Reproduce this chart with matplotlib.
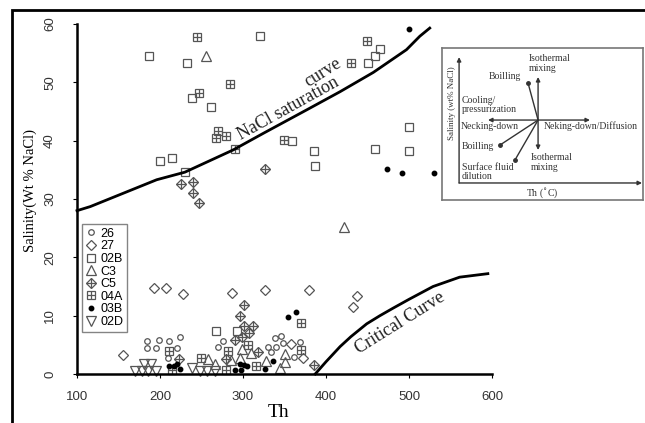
import matplotlib
matplotlib.use('Agg')
import matplotlib.pyplot as plt
from matplotlib.patches import Rectangle

# ---- data ----
s26_th = [184, 199, 211, 224, 184, 195, 221, 210, 276, 270, 330, 334, 338, 340, 346, 348, 362, 369]
s26_sal = [5.7, 5.9, 5.7, 6.4, 4.4, 4.4, 4.4, 2.8, 5.7, 4.6, 4.7, 3.7, 6.1, 4.6, 6.5, 5.4, 3.0, 5.5]

s27_th = [155, 193, 207, 228, 287, 327, 380, 437, 433, 358, 372]
s27_sal = [3.3, 14.8, 14.8, 13.7, 13.9, 14.4, 14.4, 13.4, 11.5, 5.2, 2.7]

s02b_th = [187, 232, 320, 238, 261, 200, 215, 230, 359, 385, 387, 450, 459, 465, 500, 500, 459, 267, 293]
s02b_sal = [54.5, 53.3, 58.0, 47.4, 45.7, 36.5, 37.0, 34.6, 40.0, 38.2, 35.7, 53.4, 54.5, 55.8, 42.4, 38.2, 38.5, 7.4, 7.4]

sc3_th = [256, 422, 258, 266, 285, 296, 299, 310, 328, 345, 351, 351]
sc3_sal = [54.6, 25.2, 2.5, 1.8, 2.4, 2.8, 4.3, 3.6, 2.3, 1.0, 2.1, 3.5]

sc5_th = [225, 240, 240, 247, 326, 301, 296, 301, 312, 307, 299, 290, 318, 279, 223, 385]
sc5_sal = [32.6, 32.9, 31.1, 29.4, 35.2, 11.8, 10.0, 8.3, 8.2, 7.0, 6.4, 5.8, 3.7, 2.6, 2.6, 1.5]

s04a_th = [244, 284, 247, 270, 268, 280, 290, 349, 430, 449, 211, 215, 249, 282, 280, 306, 316, 370, 370]
s04a_sal = [57.8, 49.7, 48.1, 41.6, 40.5, 40.8, 38.6, 40.2, 53.3, 57.1, 4.0, 0.7, 2.8, 4.0, 0.7, 4.9, 1.4, 8.8, 4.1]

s03b_th = [500, 473, 491, 530, 211, 217, 220, 224, 290, 297, 296, 301, 305, 327, 336, 354, 364]
s03b_sal = [59.2, 35.2, 34.4, 34.5, 1.4, 1.3, 1.7, 0.9, 0.7, 0.7, 1.7, 1.5, 1.4, 0.8, 2.2, 9.7, 10.7]

s02d_th = [170, 178, 186, 195, 181, 189, 238, 248, 257, 266]
s02d_sal = [0.5, 0.5, 0.5, 0.5, 1.7, 1.7, 1.0, 0.6, 0.6, 0.6]

nacl_th = [100, 116, 156, 196, 230, 288, 325, 377, 417, 457, 497, 513, 525]
nacl_sal = [28.0, 28.7, 31.0, 33.3, 34.6, 38.4, 41.3, 45.3, 48.4, 51.7, 55.6, 57.9, 59.3]

crit_th = [387, 400, 417, 430, 449, 465, 481, 500, 529, 561, 595]
crit_sal = [0, 2.1, 4.7, 6.4, 8.6, 10.0, 11.3, 12.8, 15.0, 16.6, 17.2]

x_ticks = [100, 200, 300, 400, 500, 600]
y_ticks = [0, 10, 20, 30, 40, 50, 60]

# inset schematic: arrow end points (axes fraction), centre of the star
inset_center = (0.478, 0.526)
inset_arrows = [(0.478, 0.809), (0.478, 0.329), (0.229, 0.526), (0.736, 0.526)]
inset_dots = [(0.428, 0.77), (0.289, 0.362), (0.363, 0.263)]
inset_labels = [
    ('Isothermal\nmixing', 0.43, 0.96),
    ('Boilling', 0.23, 0.81),
    ('Cooling/\npressurization', 0.10, 0.625),
    ('Necking-down', 0.095, 0.485),
    ('Neking-down/Diffusion', 0.505, 0.485),
    ('Boilling', 0.10, 0.35),
    ('Isothermal\nmixing', 0.44, 0.245),
    ('Surface fluid\ndilution', 0.10, 0.185),
]

W, H = 645, 423
GRAY = '#555555'
SERIF = ['Liberation Serif', 'DejaVu Serif']
SANS = ['Liberation Sans', 'DejaVu Sans']

fig = plt.figure(figsize=(W / 100, H / 100), dpi=100)
fig.patches.append(Rectangle((12 / W, -0.1), 1.2, 1 - 10 / H + 0.1,
                             transform=fig.transFigure, fill=False,
                             lw=2, ec='black', zorder=0))

ax = fig.add_axes([77 / W, 1 - 374 / H, 415 / W, 350 / H])
ax.set_xlim(100, 600)
ax.set_ylim(0, 60)
ax.patch.set_alpha(0)
for s in ['top', 'right']:
    ax.spines[s].set_visible(False)
for s in ['left', 'bottom']:
    ax.spines[s].set_linewidth(1.8)

ax.set_xticks(x_ticks)
ax.set_yticks(y_ticks)
ax.tick_params(direction='out', length=3, width=0.8, colors='black', labelcolor='#333333',
               labelsize=9.5)
ax.tick_params(axis='x', pad=9)
ax.tick_params(axis='y', pad=12)
for lab in ax.get_xticklabels() + ax.get_yticklabels():
    lab.set_fontfamily(SANS)
plt.setp(ax.get_yticklabels(), rotation=90, va='center')

kw = dict(linestyle='none', clip_on=False, mfc='none', mec=GRAY, mew=0.9)
h26, = ax.plot(s26_th, s26_sal, 'o', ms=4, **kw)
h27, = ax.plot(s27_th, s27_sal, 'D', ms=5.5, **kw)
h02b, = ax.plot(s02b_th, s02b_sal, 's', ms=5.5, **kw)
hc3, = ax.plot(sc3_th, sc3_sal, '^', ms=6.5, **kw)
hc5a, = ax.plot(sc5_th, sc5_sal, 'D', ms=5.5, **kw)
hc5b, = ax.plot(sc5_th, sc5_sal, '+', ms=7, **kw)
h04aa, = ax.plot(s04a_th, s04a_sal, 's', ms=5.5, **kw)
h04ab, = ax.plot(s04a_th, s04a_sal, '+', ms=5.5, **kw)
h03b, = ax.plot(s03b_th, s03b_sal, 'o', ms=3.2, linestyle='none', clip_on=False,
                mfc='black', mec='black')
h02d, = ax.plot(s02d_th, s02d_sal, 'v', ms=6.5, **kw)

ax.plot(nacl_th, nacl_sal, color='black', lw=2, clip_on=False)
ax.plot(crit_th, crit_sal, color='black', lw=2, clip_on=False)

ax.text(355, 45.5, 'NaCl saturation', rotation=29, rotation_mode='anchor',
        ha='center', va='center', fontsize=13, family=SERIF, color='#222222')
ax.text(396, 51.6, 'curve', rotation=32, rotation_mode='anchor',
        ha='center', va='center', fontsize=13, family=SERIF, color='#222222')
ax.text(489, 8.7, 'Critical Curve', rotation=32, rotation_mode='anchor',
        ha='center', va='center', fontsize=13, family=SERIF, color='#222222')

leg = ax.legend([h26, h27, h02b, hc3, (hc5a, hc5b), (h04aa, h04ab), h03b, h02d],
                ['26', '27', '02B', 'C3', 'C5', '04A', '03B', '02D'],
                loc='upper left', bbox_to_anchor=(0.012, 0.4286), fancybox=False,
                frameon=True, edgecolor='#666666', borderpad=0.3, labelspacing=0.05,
                handlelength=0.9, handletextpad=0.3, borderaxespad=0,
                prop={'family': SANS, 'size': 9})
leg.get_frame().set_linewidth(1.0)

fig.text(278 / W, 1 - 412 / H, 'Th', ha='center', va='center', fontsize=14,
         family=SERIF)
fig.text(30 / W, 1 - 190 / H, 'Salinity(Wt % NaCl)', rotation=90, ha='center',
         va='center', fontsize=10.5, family=SERIF)

# inset schematic
ins = fig.add_axes([442 / W, 1 - 200 / H, 201 / W, 152 / H])
ins.set_xlim(0, 1)
ins.set_ylim(0, 1)
ins.set_xticks([])
ins.set_yticks([])
for s in ins.spines.values():
    s.set_color('#777777')
    s.set_linewidth(1.2)

ap = dict(arrowstyle='-|>', color='#333333', lw=1.0, mutation_scale=6,
          shrinkA=0, shrinkB=0)
ins.annotate('', xy=(0.085, 0.94), xytext=(0.085, 0.112), arrowprops=ap)
ins.annotate('', xy=(0.995, 0.112), xytext=(0.085, 0.112), arrowprops=ap)
for end in inset_arrows:
    ins.annotate('', xy=end, xytext=inset_center, arrowprops=ap)
for end in inset_dots:
    ins.plot([inset_center[0], end[0]], [inset_center[1], end[1]],
             color='#333333', lw=1.0)
    ins.plot(end[0], end[1], 'o', ms=2.5, color='#333333')

for txt, x, y in inset_labels:
    ins.text(x, y, txt, ha='left', va='top' if y > 0.9 else 'center',
             fontsize=7, family=SERIF, color='#333333', linespacing=1.1)
ins.text(0.05, 0.64, 'Salinity (wt% NaCl)', rotation=90, ha='center', va='center',
         fontsize=6.5, family=SERIF, color='#333333')
ins.text(0.5, 0.046, 'Th ($^{\\circ}$C)', ha='center', va='center', fontsize=7,
         family=SERIF, color='#333333')

fig.savefig('out.png', dpi=100)
